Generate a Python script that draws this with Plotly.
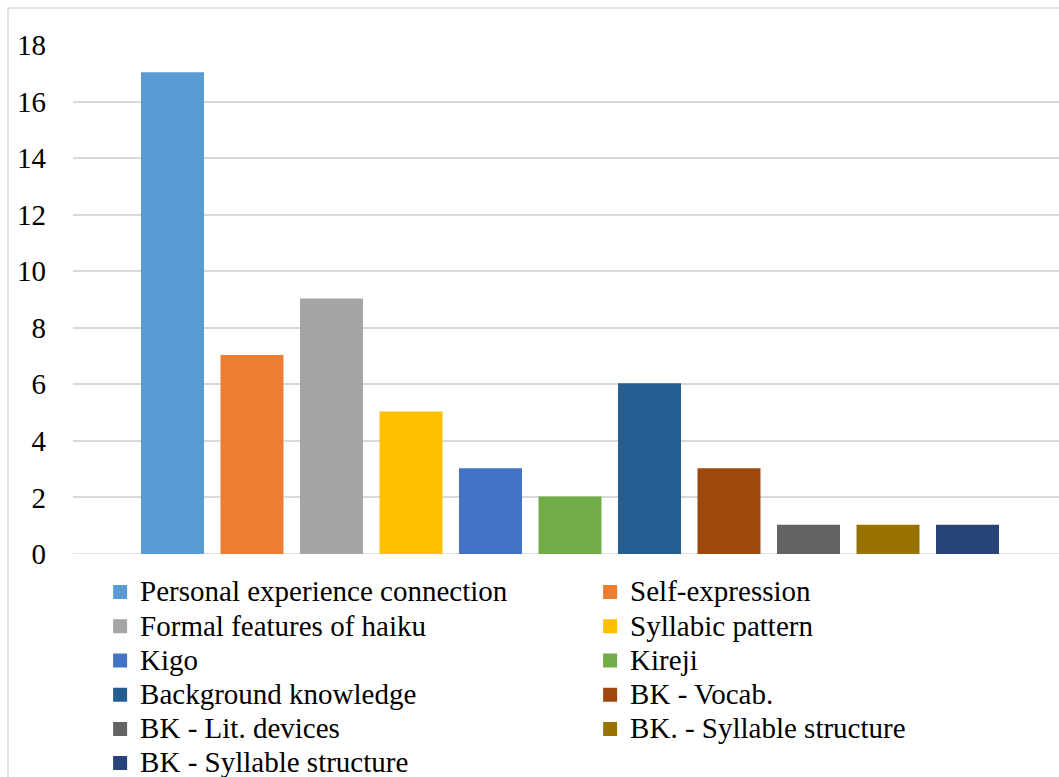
import plotly.graph_objects as go

categories = [
    "Personal experience connection",
    "Self-expression",
    "Formal features of haiku",
    "Syllabic pattern",
    "Kigo",
    "Kireji",
    "Background knowledge",
    "BK - Vocab.",
    "BK - Lit. devices",
    "BK. - Syllable structure",
    "BK - Syllable structure",
]
values = [17, 7, 9, 5, 3, 2, 6, 3, 1, 1, 1]
colors = [
    "#5B9BD5", "#ED7D31", "#A5A5A5", "#FFC000", "#4472C4", "#70AD47",
    "#255E91", "#9E480E", "#636363", "#997300", "#264478",
]
tick_vals = [0, 2, 4, 6, 8, 10, 12, 14, 16, 18]

FONT = "'Liberation Serif', 'Times New Roman', serif"

fig = go.Figure()
for i, (name, v, c) in enumerate(zip(categories, values, colors)):
    fig.add_trace(go.Bar(
        x=[i], y=[v],
        name='<span style="font-size:29px">' + name + '</span>',
        marker=dict(color=c, line=dict(width=2, color=c)),
        width=0.767,
    ))

# plot area: left 73px, right 1059px; bar centers at 172.5 + 79.5*i
px_per = 79.5
x0 = (73 - 172.5) / px_per
x1 = (1059 - 172.5) / px_per

fig.update_layout(
    width=1059, height=777,
    margin=dict(l=73, r=0, t=45, b=223, pad=0, autoexpand=False),
    paper_bgcolor="white", plot_bgcolor="white",
    barmode="overlay",
    font=dict(family=FONT, size=29, color="#000000"),
    showlegend=True,
    legend=dict(
        orientation="h",
        x=0.0275, xanchor="left",
        y=-0.0314, yanchor="top",
        entrywidth=445, entrywidthmode="pixels",
        font=dict(family=FONT, size=24, color="#000000"),
        itemclick=False, itemdoubleclick=False,
        tracegroupgap=0,
        bgcolor="rgba(0,0,0,0)",
    ),
    xaxis=dict(
        range=[x0, x1], showticklabels=False, showgrid=False,
        zeroline=False, showline=False, ticks="", fixedrange=True,
    ),
    yaxis=dict(
        range=[0, 18], tickvals=tick_vals, showgrid=True,
        gridcolor="#D9D9D9", gridwidth=1.5, zeroline=False,
        showline=False, ticks="", ticklabelstandoff=26,
        tickfont=dict(family=FONT, size=29, color="#000000"),
    ),
    shapes=[
        dict(type="line", xref="paper", yref="y", x0=0, x1=1, y0=0, y1=0,
             line=dict(color="#D9D9D9", width=1.5), layer="below"),
        dict(type="rect", xref="paper", yref="paper",
             x0=(8 - 73) / 986, x1=1.05, y0=-1.0, y1=(554 - 8) / 509,
             line=dict(color="#D9D9D9", width=1.5), layer="below"),
    ],
)

fig.write_html("out.html")
